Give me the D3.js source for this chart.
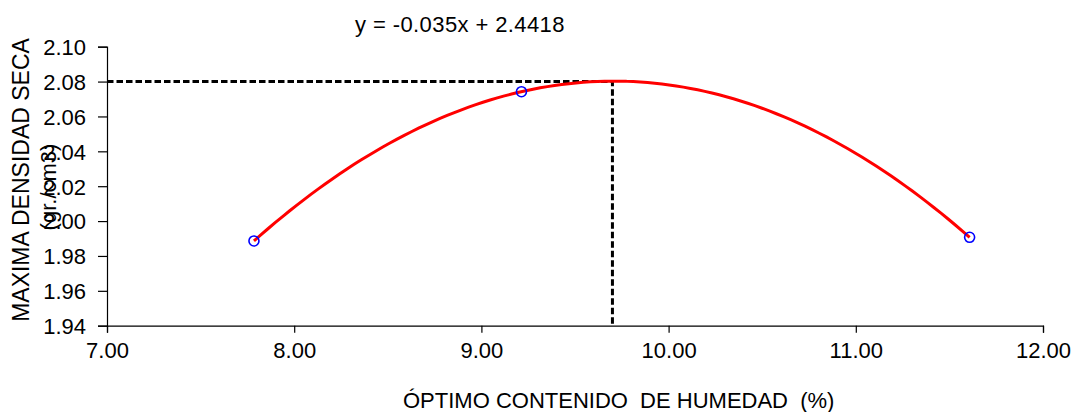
<!DOCTYPE html>
<html>
<head>
<meta charset="utf-8">
<script src="https://cdn.jsdelivr.net/npm/d3@7"></script>
<style>
  body { margin: 0; background: #fff; }
  svg text { font-family: "Liberation Sans", Arial, sans-serif; fill: #000; }
</style>
</head>
<body>
<svg id="chart" width="1075" height="412"></svg>
<script>

// proctor test points: humidity (%) vs dry density (gr./cm3)
var humidity = [7.785, 9.214, 11.608];
var density = [1.9886, 2.0742, 1.9907];

var xTicks = [7, 8, 9, 10, 11, 12];
var yTicks = [1.94, 1.96, 1.98, 2.00, 2.02, 2.04, 2.06, 2.08, 2.10];

var optimumHumidity = 9.70;
var maxDensity = 2.08;

var equationLabel = "y = -0.035x + 2.4418";
var xTitle = "ÓPTIMO CONTENIDO  DE HUMEDAD  (%)";
var yTitle = ["MAXIMA DENSIDAD SECA", "(gr./cm3)"];

var svg = d3.select("#chart");

var x = d3.scaleLinear().domain([7, 12]).range([107, 1043]);
var y = d3.scaleLinear().domain([1.94, 2.10]).range([325.7, 46.7]);

// 2nd order trendline through the points (divided differences)
var f01 = (density[1] - density[0]) / (humidity[1] - humidity[0]);
var f12 = (density[2] - density[1]) / (humidity[2] - humidity[1]);
var a2 = (f12 - f01) / (humidity[2] - humidity[0]);
function trend(h) {
  return density[0] + f01 * (h - humidity[0]) + a2 * (h - humidity[0]) * (h - humidity[1]);
}
var trendPts = d3.range(0, 101).map(i => {
  var h = humidity[0] + (humidity[2] - humidity[0]) * i / 100;
  return [h, trend(h)];
});

// axes
var yAxis = svg.append("g")
  .attr("transform", "translate(107,0)")
  .call(d3.axisLeft(y).tickValues(yTicks).tickSize(9).tickFormat(d3.format(".2f")));
var xAxis = svg.append("g")
  .attr("transform", "translate(0,325.7)")
  .call(d3.axisBottom(x).tickValues(xTicks).tickSize(7).tickFormat(d3.format(".2f")));

[xAxis, yAxis].forEach(g => {
  g.select(".domain").attr("stroke", "#000").attr("stroke-width", 1.2);
  g.selectAll(".tick line").attr("stroke", "#000").attr("stroke-width", 1.2);
  g.selectAll(".tick text")
    .style("font-size", "22px")
    .style("font-family", "Liberation Sans, Arial, sans-serif")
    .attr("fill", "#000");
});
yAxis.selectAll(".tick text").attr("x", -21).attr("dy", "0.36em");
xAxis.selectAll(".tick text").attr("y", 17);

// dashed guides at the optimum
svg.append("path")
  .attr("d", `M${x(7)},${y(maxDensity)}H${x(optimumHumidity)}V${y(1.94)}`)
  .attr("fill", "none")
  .attr("stroke", "#000")
  .attr("stroke-width", 3)
  .attr("stroke-dasharray", "6.5,3");

// trendline
svg.append("path")
  .datum(trendPts)
  .attr("d", d3.line().x(d => x(d[0])).y(d => y(d[1])).curve(d3.curveMonotoneX))
  .attr("fill", "none")
  .attr("stroke", "#ff0000")
  .attr("stroke-width", 3);

// points
svg.selectAll("circle.pt")
  .data(humidity)
  .join("circle")
  .attr("class", "pt")
  .attr("cx", d => x(d))
  .attr("cy", (d, i) => y(density[i]))
  .attr("r", 5)
  .attr("fill", "none")
  .attr("stroke", "#0000ff")
  .attr("stroke-width", 1.6);

// texts
svg.append("text")
  .attr("x", 460)
  .attr("y", 32)
  .attr("text-anchor", "middle")
  .style("font-size", "22px")
  .style("letter-spacing", "0.4px")
  .text(equationLabel);

svg.append("text")
  .attr("x", 403)
  .attr("y", 408)
  .style("font-size", "22px")
  .style("white-space", "pre")
  .text(xTitle);

svg.append("text")
  .attr("transform", "translate(29,180) rotate(-90)")
  .attr("text-anchor", "middle")
  .style("font-size", "23px")
  .text(yTitle[0]);

svg.append("text")
  .attr("transform", "translate(56,187) rotate(-90)")
  .attr("text-anchor", "middle")
  .style("font-size", "22px")
  .text(yTitle[1]);

</script>
</body>
</html>
